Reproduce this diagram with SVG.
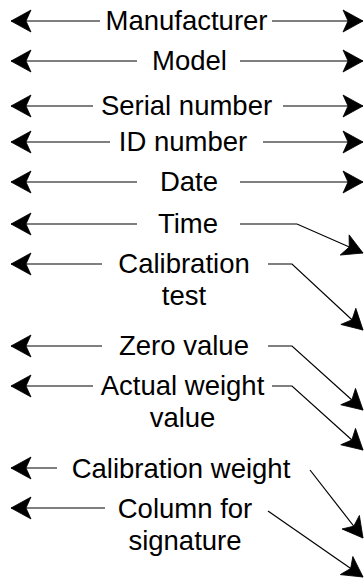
<svg xmlns="http://www.w3.org/2000/svg" width="364" height="584" viewBox="0 0 364 584">
<style>
text{font-family:"Liberation Sans",Arial,Helvetica,sans-serif;font-size:27.5px;fill:#000;text-anchor:middle}
.c{fill:none;stroke:#000;stroke-width:1.2;marker-end:url(#ah)}
</style>
<defs>
<marker id="ah" markerUnits="userSpaceOnUse" markerWidth="26" markerHeight="26" viewBox="-23 -13 26 26" refX="0" refY="0" orient="auto">
<path d="M0,0 L-20,-11 L-15,0 L-20,11 Z" fill="#000" stroke="#000" stroke-width="0.8" stroke-linejoin="miter"/>
</marker>
</defs>
<rect width="364" height="584" fill="#fff"/>
<g id="manufacturer"><text x="186.5" y="30">Manufacturer</text></g>
<g id="model"><text x="189.5" y="70">Model</text></g>
<g id="serial"><text x="186.5" y="115">Serial number</text></g>
<g id="idnum"><text x="183" y="151">ID number</text></g>
<g id="date"><text x="189" y="191">Date</text></g>
<g id="time"><text x="188" y="233">Time</text></g>
<g id="caltest"><text x="184" y="273">Calibration</text><text x="184" y="305">test</text></g>
<g id="zero"><text x="184" y="355">Zero value</text></g>
<g id="actual"><text x="182.5" y="395">Actual weight</text><text x="182.5" y="427">value</text></g>
<g id="calweight"><text x="181" y="478">Calibration weight</text></g>
<g id="column"><text x="185" y="518">Column for</text><text x="185" y="550">signature</text></g>
<g id="connectors">
<path class="c" d="M100,21 H11"/>
<path class="c" d="M272,21 H363"/>
<path class="c" d="M137,61 H11"/>
<path class="c" d="M240,61 H363"/>
<path class="c" d="M93,106 H11"/>
<path class="c" d="M283,106 H363"/>
<path class="c" d="M110,142 H11"/>
<path class="c" d="M263,142 H363"/>
<path class="c" d="M137,182 H11"/>
<path class="c" d="M240,182 H363"/>
<path class="c" d="M137,224 H11"/>
<path class="c" d="M240,224 H297 L363,253"/>
<path class="c" d="M102,264 H11"/>
<path class="c" d="M268,264 H292 L363,330"/>
<path class="c" d="M102,346 H11"/>
<path class="c" d="M268,346 H292 L363,410"/>
<path class="c" d="M93,386 H11"/>
<path class="c" d="M272,386 H292 L363,450"/>
<path class="c" d="M57,468 H11"/>
<path class="c" d="M310,470 L363,538"/>
<path class="c" d="M105,508 H11"/>
<path class="c" d="M268,511 L363,577"/>
</g>
</svg>
